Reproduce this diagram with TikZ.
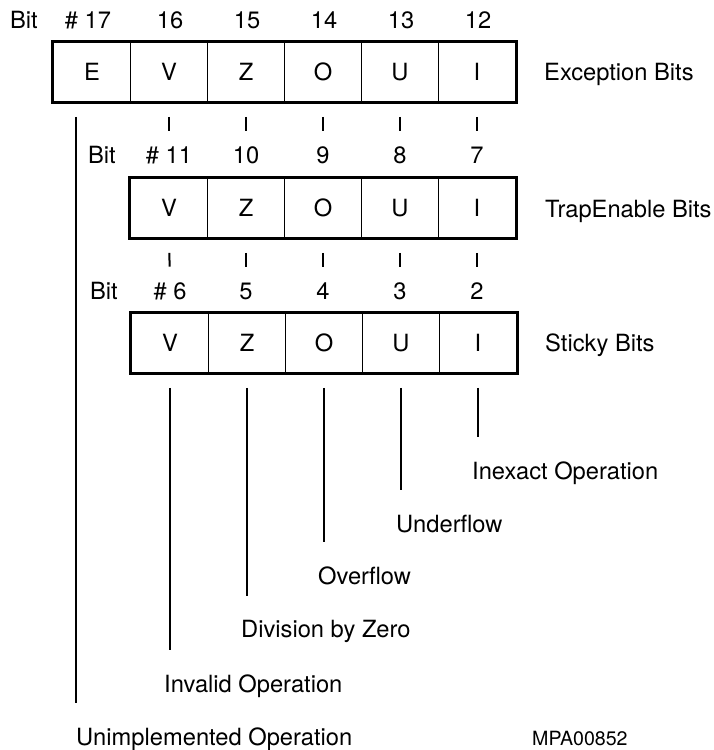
\documentclass[tikz,border=0pt]{standalone}
\usepackage{fontspec}
\setmainfont{TeX Gyre Heros}

\tikzset{
  cell/.style={draw, line width=1.6pt, minimum width=77pt, minimum height=60pt, inner sep=0pt},
  frame/.style={line width=3pt},
  tick/.style={line width=2pt, shorten <=14pt, shorten >=15.5pt},
  lead/.style={line width=1.8pt, shorten <=14pt, shorten >=24pt},
  bitno/.style={inner sep=0pt},
  caption/.style={anchor=base west, inner sep=0pt},
}

\begin{document}
\begin{tikzpicture}[x=1pt, y=1pt, font=\fontsize{23.7}{28}\selectfont]
    \useasboundingbox (0,0) rectangle (713,-750);
    % exception bits
    \node[bitno] (bitE) at (24,-20) {Bit};
    \node[bitno] (n17) at (88,-20) {\# 17};
    \node[bitno] (n16) at (170,-20) {16};
    \node[bitno] (n15) at (247,-20) {15};
    \node[bitno] (n14) at (324,-20) {14};
    \node[bitno] (n13) at (401,-20) {13};
    \node[bitno] (n12) at (478,-20) {12};
    \node[cell] (eE) at (92,-72) {E};
    \node[cell] (eV) at (169,-72) {V};
    \node[cell] (eZ) at (246,-72) {Z};
    \node[cell] (eO) at (323,-72) {O};
    \node[cell] (eU) at (400,-72) {U};
    \node[cell] (eI) at (477,-72) {I};
    \draw[frame] (eE.north west) rectangle (eI.south east);
    \node[caption] (excCap) at (544,-80.5) {Exception Bits};
    % trap enable bits
    \node[bitno] (bitT) at (102,-155) {Bit};
    \node[bitno] (n11) at (169,-155) {\# 11};
    \node[bitno] (n10) at (246,-155) {10};
    \node[bitno] (n9) at (323,-155) {9};
    \node[bitno] (n8) at (400,-155) {8};
    \node[bitno] (n7) at (477,-155) {7};
    \node[cell] (tV) at (169,-208) {V};
    \node[cell] (tZ) at (246,-208) {Z};
    \node[cell] (tO) at (323,-208) {O};
    \node[cell] (tU) at (400,-208) {U};
    \node[cell] (tI) at (477,-208) {I};
    \draw[frame] (tV.north west) rectangle (tI.south east);
    \node[caption] (trapCap) at (545,-217) {TrapEnable Bits};
    \draw[tick] (eV.south) -- (n11.north);
    \draw[tick] (eZ.south) -- (n10.north);
    \draw[tick] (eO.south) -- (n9.north);
    \draw[tick] (eU.south) -- (n8.north);
    \draw[tick] (eI.south) -- (n7.north);
    % sticky bits
    \node[bitno] (bitS) at (104,-291) {Bit};
    \node[bitno] (n6) at (170,-291) {\# 6};
    \node[bitno] (n5) at (246,-291) {5};
    \node[bitno] (n4) at (323,-291) {4};
    \node[bitno] (n3) at (400,-291) {3};
    \node[bitno] (n2) at (477,-291) {2};
    \node[cell] (sV) at (170,-343) {V};
    \node[cell] (sZ) at (247,-343) {Z};
    \node[cell] (sO) at (324,-343) {O};
    \node[cell] (sU) at (401,-343) {U};
    \node[cell] (sI) at (478,-343) {I};
    \draw[frame] (sV.north west) rectangle (sI.south east);
    \node[caption] (stickyCap) at (545,-351.5) {Sticky Bits};
    \draw[tick] (tV.south) -- (n6.north);
    \draw[tick] (tZ.south) -- (n5.north);
    \draw[tick] (tO.south) -- (n4.north);
    \draw[tick] (tU.south) -- (n3.north);
    \draw[tick] (tI.south) -- (n2.north);
    % what each bit means
    \node[caption] (inexact) at (472,-479) {Inexact Operation};
    \node[caption] (underflow) at (396,-532) {Underflow};
    \node[caption] (overflow) at (318,-584) {Overflow};
    \node[caption] (divzero) at (241,-637) {Division by Zero};
    \node[caption] (invalid) at (164,-692) {Invalid Operation};
    \node[caption] (unimpl) at (76,-745) {Unimplemented Operation};
    \draw[lead] (sI.south) -- (sI.south |- inexact.north);
    \draw[lead] (sU.south) -- (sU.south |- underflow.north);
    \draw[lead] (sO.south) -- (sO.south |- overflow.north);
    \draw[lead] (sZ.south) -- (sZ.south |- divzero.north);
    \draw[lead] (sV.south) -- (sV.south |- invalid.north);
    \draw[lead] (unimpl.west |- eE.south) -- (unimpl.north west);
    \node[caption, font=\fontsize{19.6}{23}\selectfont] (code) at (532,-745) {MPA00852};
\end{tikzpicture}
\end{document}
